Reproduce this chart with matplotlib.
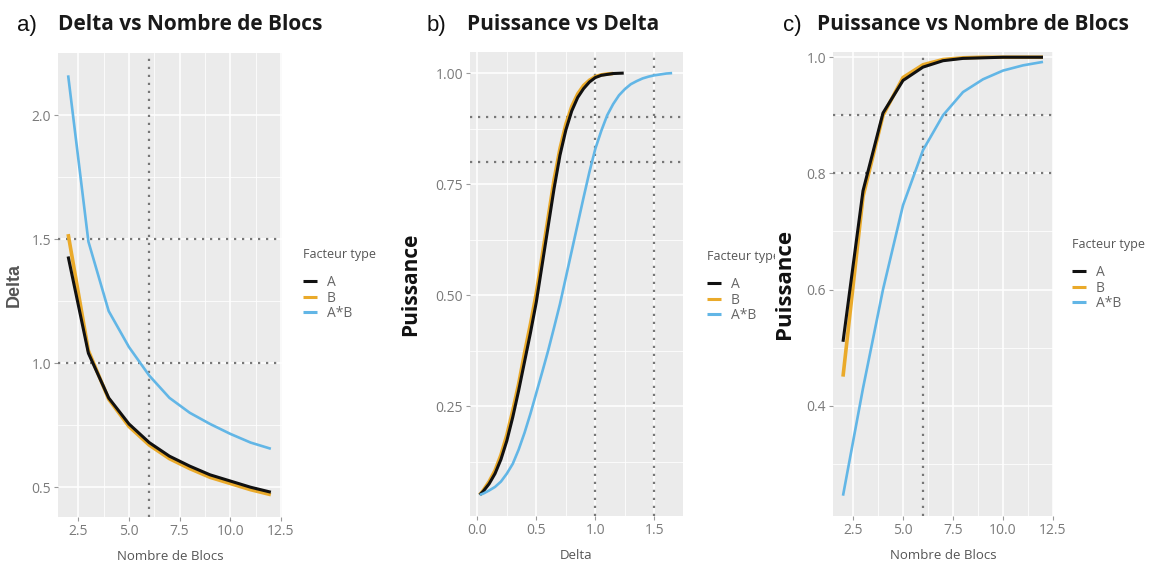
import matplotlib
matplotlib.use('Agg')
import matplotlib.pyplot as plt
from matplotlib.patches import Rectangle

# nombre de blocs
blocs = [2, 3, 4, 5, 6, 7, 8, 9, 10, 11, 12]

# a) delta detectable selon le nombre de blocs
delta_A = [1.43, 1.04, 0.86, 0.755, 0.68, 0.625, 0.585, 0.55, 0.525, 0.50, 0.48]
delta_B = [1.52, 1.05, 0.855, 0.745, 0.67, 0.615, 0.575, 0.54, 0.515, 0.49, 0.47]
delta_AB = [2.16, 1.49, 1.21, 1.065, 0.95, 0.86, 0.80, 0.755, 0.715, 0.68, 0.655]

# b) puissance selon delta
delta_grid_A = [0.02, 0.05, 0.10, 0.15, 0.20, 0.25, 0.30, 0.35, 0.40, 0.45, 0.50, 0.55, 0.60,
                0.65, 0.70, 0.75, 0.80, 0.85, 0.90, 0.95, 1.00, 1.05, 1.10, 1.15, 1.24]
puiss_delta_A = [0.05, 0.058, 0.075, 0.098, 0.13, 0.172, 0.225, 0.285, 0.35, 0.415, 0.485, 0.57,
                 0.655, 0.74, 0.815, 0.872, 0.915, 0.945, 0.965, 0.98, 0.99, 0.995, 0.997, 0.999, 1.0]
delta_grid_B = [0.02, 0.05, 0.10, 0.15, 0.20, 0.25, 0.30, 0.35, 0.40, 0.45, 0.50, 0.55, 0.60,
                0.65, 0.70, 0.75, 0.80, 0.85, 0.90, 0.95, 1.00, 1.05, 1.10, 1.15]
puiss_delta_B = [0.05, 0.06, 0.08, 0.105, 0.14, 0.185, 0.24, 0.30, 0.37, 0.435, 0.505, 0.59,
                 0.675, 0.76, 0.83, 0.885, 0.925, 0.953, 0.972, 0.984, 0.992, 0.996, 0.998, 0.999]
delta_grid_AB = [0.02, 0.05, 0.10, 0.15, 0.20, 0.25, 0.30, 0.35, 0.40, 0.45, 0.50, 0.55, 0.60,
                 0.65, 0.70, 0.75, 0.80, 0.85, 0.90, 0.95, 1.00, 1.05, 1.10, 1.15, 1.20, 1.25,
                 1.30, 1.35, 1.40, 1.45, 1.50, 1.55, 1.60, 1.65]
puiss_delta_AB = [0.05, 0.053, 0.06, 0.068, 0.08, 0.098, 0.12, 0.152, 0.19, 0.233, 0.28, 0.327,
                  0.375, 0.427, 0.48, 0.54, 0.60, 0.66, 0.72, 0.778, 0.83, 0.87, 0.905, 0.93,
                  0.95, 0.964, 0.975, 0.982, 0.988, 0.992, 0.995, 0.997, 0.999, 1.0]

# c) puissance selon le nombre de blocs
puiss_blocs_A = [0.51, 0.77, 0.904, 0.96, 0.983, 0.994, 0.998, 0.999, 1.0, 1.0, 1.0]
puiss_blocs_B = [0.45, 0.76, 0.90, 0.965, 0.987, 0.996, 0.999, 1.0, 1.0, 1.0, 1.0]
puiss_blocs_AB = [0.245, 0.43, 0.60, 0.745, 0.84, 0.90, 0.94, 0.962, 0.977, 0.986, 0.992]

facteurs = ['A', 'B', 'A*B']
couleurs = {'A': '#111111', 'B': '#EAAA2A', 'A*B': '#62B6E6'}
epaisseurs = {'A': 2.2, 'B': 2.6, 'A*B': 1.9}
ordre = {'A': 4, 'B': 3, 'A*B': 5}

W, H = 1162, 565
fig = plt.figure(figsize=(W / 100, H / 100), dpi=100)


def boite(x0, y0, x1, y1):
    return [x0 / W, 1 - y1 / H, (x1 - x0) / W, (y1 - y0) / H]


def style_gg(ax, xmaj, xmin, ymaj, ymin):
    ax.set_facecolor('#EBEBEB')
    for s in ax.spines.values():
        s.set_visible(False)
    ax.set_xticks(xmaj)
    ax.set_xticks(xmin, minor=True)
    ax.set_yticks(ymaj)
    ax.set_yticks(ymin, minor=True)
    ax.grid(which='major', color='white', linewidth=1.1)
    ax.grid(which='minor', color='white', linewidth=0.55)
    ax.set_axisbelow(True)
    ax.tick_params(which='major', length=3, width=0.8, color='#9a9a9a',
                   labelcolor='#7a7a7a', labelsize=10, pad=2)
    ax.tick_params(which='minor', length=0)
    for lab in ax.get_xticklabels() + ax.get_yticklabels():
        lab.set_family('Open Sans')


def tracer(ax, xs, ys):
    lignes = {}
    for f in facteurs:
        lignes[f], = ax.plot(xs[f], ys[f], color=couleurs[f], lw=epaisseurs[f],
                             zorder=ordre[f], solid_capstyle='butt', label=f)
    return [lignes[f] for f in facteurs]


def legende(ax, x, y):
    leg = ax.legend(handles=ax._lignes, labels=facteurs, title='Facteur type',
                    loc='upper left', bbox_to_anchor=(x / W, 1 - y / H),
                    bbox_transform=fig.transFigure, frameon=False,
                    handlelength=1.0, handletextpad=0.7, labelspacing=0.05,
                    borderpad=0, borderaxespad=0, alignment='left',
                    prop={'family': 'Open Sans', 'size': 10})
    leg.get_title().set_family('Open Sans')
    leg.get_title().set_fontsize(9)
    leg.get_title().set_color('#555555')
    leg._legend_box.sep = 10
    for t in leg.get_texts():
        t.set_color('#666666')
    for h in leg.legend_handles:
        h.set_linewidth(2.2)
    return leg


pointille = dict(color='#777777', linestyle=(0, (1, 2.6)), linewidth=1.6, zorder=2)
titre = dict(family='Open Sans', fontweight='bold', fontsize=15, color='#1a1a1a', va='center')
lettre = dict(family='Liberation Sans', fontsize=16, color='#111111', va='center')

# a) Delta vs Nombre de Blocs
ax_a = fig.add_axes(boite(58, 53, 282, 517))
style_gg(ax_a, [2.5, 5.0, 7.5, 10.0, 12.5], [3.75, 6.25, 8.75, 11.25],
         [0.5, 1.0, 1.5, 2.0], [0.75, 1.25, 1.75])
ax_a._lignes = tracer(ax_a, {'A': blocs, 'B': blocs, 'A*B': blocs},
                      {'A': delta_A, 'B': delta_B, 'A*B': delta_AB})
ax_a.axvline(6, **pointille)
ax_a.axhline(1.0, **pointille)
ax_a.axhline(1.5, **pointille)
ax_a.set_xlim(1.5, 12.55)
ax_a.set_ylim(0.38, 2.25)
ax_a.set_xlabel('Nombre de Blocs', family='Open Sans', fontsize=9.5, color='#555555', labelpad=8)
ax_a.set_ylabel('Delta', family=['Liberation Sans Narrow', 'Liberation Sans'], fontweight='bold',
                fontsize=13, color='#555555', labelpad=6)
legende(ax_a, 303, 248)
fig.text(17 / W, 1 - 25 / H, 'a)', **lettre)
fig.text(58 / W, 1 - 24 / H, 'Delta vs Nombre de Blocs', **titre)

# b) Puissance vs Delta
ax_b = fig.add_axes(boite(470, 52, 683, 516))
style_gg(ax_b, [0.0, 0.5, 1.0, 1.5], [0.25, 0.75, 1.25],
         [0.25, 0.50, 0.75, 1.00], [0.125, 0.375, 0.625, 0.875])
ax_b.yaxis.set_major_formatter(matplotlib.ticker.FormatStrFormatter('%.2f'))
ax_b._lignes = tracer(ax_b, {'A': delta_grid_A, 'B': delta_grid_B, 'A*B': delta_grid_AB},
                      {'A': puiss_delta_A, 'B': puiss_delta_B, 'A*B': puiss_delta_AB})
ax_b.axvline(1.0, **pointille)
ax_b.axvline(1.5, **pointille)
ax_b.axhline(0.8, **pointille)
ax_b.axhline(0.9, **pointille)
ax_b.set_xlim(-0.062, 1.742)
ax_b.set_ylim(0.0025, 1.0475)
ax_b.set_xlabel('Delta', family='Open Sans', fontsize=9.5, color='#555555', labelpad=8)
ax_b.set_ylabel('Puissance', family='Open Sans', fontweight='bold', fontsize=15,
                color='#111111', labelpad=10)
legende(ax_b, 707, 250)
fig.text(427 / W, 1 - 25 / H, 'b)', **lettre)
fig.text(467 / W, 1 - 24 / H, 'Puissance vs Delta', **titre)

# le panneau c recouvre la fin de la légende du panneau b
fig.patches.append(Rectangle((775 / W, 0), 1 - 775 / W, 1, transform=fig.transFigure,
                             facecolor='white', edgecolor='none', zorder=1))

# c) Puissance vs Nombre de Blocs
ax_c = fig.add_axes(boite(833, 52, 1053, 516))
ax_c.set_zorder(2)
style_gg(ax_c, [2.5, 5.0, 7.5, 10.0, 12.5], [3.75, 6.25, 8.75, 11.25],
         [0.4, 0.6, 0.8, 1.0], [0.3, 0.5, 0.7, 0.9])
ax_c._lignes = tracer(ax_c, {'A': blocs, 'B': blocs, 'A*B': blocs},
                      {'A': puiss_blocs_A, 'B': puiss_blocs_B, 'A*B': puiss_blocs_AB})
ax_c.axvline(6, **pointille)
ax_c.axhline(0.8, **pointille)
ax_c.axhline(0.9, **pointille)
ax_c.set_xlim(1.5, 12.5)
ax_c.set_ylim(0.21, 1.009)
ax_c.set_xlabel('Nombre de Blocs', family='Open Sans', fontsize=9.5, color='#555555', labelpad=8)
ax_c.set_ylabel('Puissance', family='Open Sans', fontweight='bold', fontsize=16,
                color='#111111', labelpad=8)
legende(ax_c, 1072, 238)
fig.text(783 / W, 1 - 25 / H, 'c)', **lettre)
fig.text(817 / W, 1 - 24 / H, 'Puissance vs Nombre de Blocs', **titre)

fig.savefig('out.png', dpi=100, facecolor='white')
